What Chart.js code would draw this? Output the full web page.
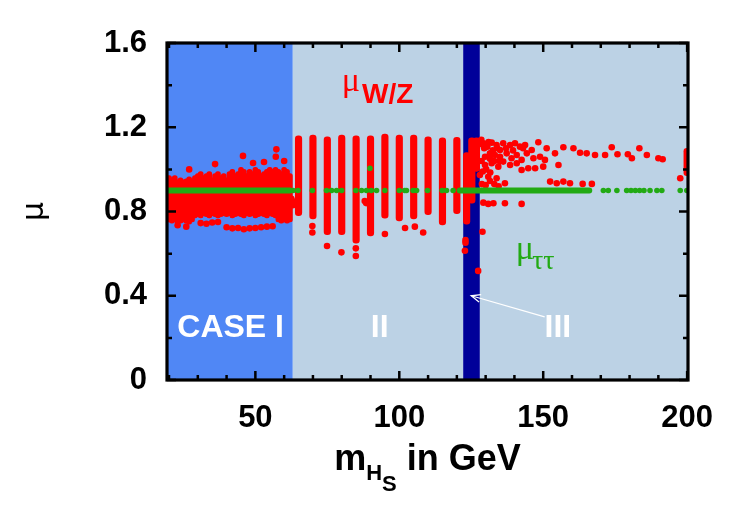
<!DOCTYPE html>
<html><head><meta charset="utf-8">
<script src="https://cdn.jsdelivr.net/npm/chart.js@4.4.1/dist/chart.umd.min.js"></script>
<style>html,body{margin:0;padding:0;background:#fff;}canvas{display:block;}</style>
</head><body>
<canvas id="c" width="750" height="525"></canvas>
<script>
// ---- axes ----
const xTickValues = [50, 100, 150, 200];
const xTickLabels = ['50', '100', '150', '200'];
const xMinorTicks = [20, 30, 40, 60, 70, 80, 90, 110, 120, 130, 140, 160, 170, 180, 190];
const yTickValues = [0, 0.4, 0.8, 1.2, 1.6];
const yTickLabels = ['0', '0.4', '0.8', '1.2', '1.6'];
const yMinorTicks = [0.2, 0.6, 1.0, 1.4];

// ---- shaded mass regions (GeV) ----
const bandFrom = [19.3, 63.0, 122.2, 128.0];
const bandTo   = [63.0, 122.2, 128.0, 200.3];
const regionLabels = ['CASE I', 'II', 'III'];
const regionLabelX = [41.4, 93.2, 155.1];
const regionLabelY = [0.206, 0.206, 0.206];

// ---- mu_W/Z : dense Case I scan (per GeV columns) ----
const caseIX = [20,21,22,23,24,25,26,27,28,29,30,31,32,33,34,35,36,37,38,39,40,41,42,43,44,45,46,47,48,49,50,51,52,53,54,55,56,57,58,59,60,61,62];
const caseILow = [0.75,0.745,0.75,0.74,0.745,0.75,0.745,0.74,0.75,
  0.77,0.775,0.77,0.78,0.775,0.77,0.78,0.775,0.77,0.775,
  0.78,0.775,0.78,0.77,0.775,0.78,0.775,0.77,0.78,0.775,0.78,0.77,0.775,0.78,0.775,0.77,0.78,0.775,0.77,
  0.75,0.745,0.75,0.745,0.75];
const caseIHigh = [0.97,0.96,0.97,0.95,0.96,0.95,0.955,0.965,0.955,0.97,0.98,0.99,0.97,0.98,0.99,0.96,0.98,0.99,0.97,
  0.98,0.96,0.99,1.0,0.98,0.99,1.01,1.0,0.98,1.0,0.99,1.01,1.0,0.98,0.99,1.0,1.01,1.0,1.01,1.0,0.99,1.01,1.0,0.98];

// ---- mu_W/Z : scan columns (GeV, low, high) ----
const colX    = [65, 70, 75, 80, 85, 90, 95, 100, 105, 110, 115, 120, 123.4, 125.2, 126.8, 200];
const colLow  = [0.78, 0.765, 0.69, 0.69, 0.65, 0.684, 0.768, 0.755, 0.765, 0.785, 0.736, 0.79, 0.74, 0.84, 0.99, 0.97];
const colHigh = [1.159, 1.163, 1.155, 1.163, 1.159, 1.159, 1.168, 1.163, 1.163, 1.155, 1.15, 1.152, 1.08, 1.15, 1.15, 1.10];

// ---- mu_W/Z : isolated points ----
const caseIPtX = [31,33,35,37,40,42,44,46,48,50,52,54,56,23,26,45.7,57.3,57.1,49.2,36,27,53,60];
const caseIPtY = [0.745,0.742,0.748,0.75,0.725,0.72,0.722,0.716,0.72,0.722,0.725,0.728,0.73,0.735,0.728,1.064,1.095,1.06,1.03,1.025,1.0,1.035,1.04];
const caseIIPtX = [62.5,63,62.8,88,88.5,69.8,69.8,74.9,79.9,84.9,84.9,95,102,105.4,108.3,123,123,122.8,127.4,128.9];
const caseIIPtY = [0.86,0.83,0.85,0.85,0.84,0.731,0.70,0.636,0.606,0.625,0.589,0.693,0.722,0.728,0.70,0.665,0.652,0.614,0.518,0.704];
const caseIIIPtX = [129.2,130.6,132.1,133.8,135.0,136.1,137.1,138.5,140.2,141.9,143.7,146.0,148.3,
  129.8,131.5,133.2,135.0,137.3,139.0,140.8,142.5,144.3,146.6,148.9,150.6,
  129.8,132.1,134.4,136.1,138.5,140.8,142.5,144.8,147.2,150.0,155.3,
  128.0,130.9,133.8,
  151.2,154.1,157.0,160.5,162.8,165.1,168.0,171.5,173.8,175.8,179.4,180.8,183.4,186.0,190.0,191.5,
  152.4,154.7,157.0,159.3,163.7,166.9,
  129.2,130.9,132.7,136.7,142.5,136.7,197.6,
  128.5,129.5,131.0,132.5,134.0,128.6,130.2,131.5,133.0,134.8,129.0,131.6,128.4,139.5,143.0,
  128.7,130.0,131.5,133.0,134.5];
const caseIIIPtY = [1.124,1.108,1.127,1.116,1.092,1.124,1.100,1.116,1.124,1.108,1.116,1.092,1.129,
  1.060,1.076,1.068,1.060,1.076,1.053,1.068,1.045,1.076,1.053,1.060,1.045,
  1.021,1.029,1.013,1.037,1.021,1.029,0.997,1.005,1.005,1.013,1.021,
  0.973,0.965,0.958,
  1.100,1.076,1.105,1.100,1.079,1.076,1.068,1.068,1.105,1.072,1.072,1.053,1.100,1.068,1.053,1.048,
  0.942,0.934,0.942,0.934,0.931,0.931,
  0.842,0.836,0.839,0.839,0.836,0.934,0.958,
  1.14,1.10,1.13,1.09,1.10,1.04,1.0,1.05,1.04,1.04,0.99,0.985,1.12,1.09,1.10,
  0.93,0.925,0.945,0.93,0.92];

// ---- mu_tautau ----
const ttSegStart = [19.5, 121.0];
const ttSegEnd   = [62.0, 166.0];
const ttSegY     = [0.9, 0.9];
const ttPtX = [63.1,64.8,69.8,74.7,76.5,78.2,80.0,84.9,86.9,88.6,90.3,92.1,95.0,100.0,101.9,102.5,104.8,106.0,109.8,114.9,116.4,118.7,
  170.9,172.6,175.6,179.0,180.5,182.0,183.5,185.0,187.1,189.5,191.2,197.6,199.9,89.8];
const ttPtY = [0.9,0.9,0.9,0.9,0.9,0.9,0.9,0.9,0.9,0.9,0.9,0.9,0.9,0.9,0.9,0.9,0.9,0.9,0.9,0.9,0.9,0.9,
  0.9,0.9,0.9,0.9,0.9,0.9,0.9,0.9,0.9,0.9,0.9,0.9,0.9,1.005];

// ---- annotation anchors (data units) ----
const wzLabelPos = [80.0, 1.372];
const ttLabelPos = [140.5, 0.575];
const arrowFrom = [150.5, 0.30];
const arrowTo = [125.0, 0.40];

// ---- styles ----
const RED = 'rgb(255,0,0)';
const GREEN = 'rgb(34,170,20)';
const bandColors = ['rgb(80,135,245)', 'rgb(188,210,229)', 'rgb(0,0,153)', 'rgb(188,210,229)'];
const SANS = '"Liberation Sans", Arial, sans-serif';
const SERIF = '"Liberation Serif", "DejaVu Serif", serif';

const caseIBars = caseIX.map((x, i) => ({x: x, y: [caseILow[i], caseIHigh[i]]}));
const colBars = colX.map((x, i) => ({x: x, y: [colLow[i], colHigh[i]]}));
const redPts = []
  .concat(caseIPtX.map((x, i) => ({x: x, y: caseIPtY[i]})))
  .concat(caseIIPtX.map((x, i) => ({x: x, y: caseIIPtY[i]})))
  .concat(caseIIIPtX.map((x, i) => ({x: x, y: caseIIIPtY[i]})));
const greenLine = [];
ttSegStart.forEach((s, i) => {
  greenLine.push({x: s, y: ttSegY[i]}, {x: ttSegEnd[i], y: ttSegY[i]}, {x: ttSegEnd[i], y: null});
});
const greenPts = ttPtX.map((x, i) => ({x: x, y: ttPtY[i]}));

const bgPlugin = {
  id: 'bg',
  beforeDatasetsDraw(chart) {
    const {ctx, chartArea: a, scales: {x}} = chart;
    ctx.save();
    for (let i = 0; i < bandFrom.length; i++) {
      const x0 = Math.max(a.left, x.getPixelForValue(bandFrom[i]));
      const x1 = Math.min(a.right, x.getPixelForValue(bandTo[i]));
      ctx.fillStyle = bandColors[i];
      ctx.fillRect(x0, a.top, x1 - x0, a.bottom - a.top);
    }
    ctx.restore();
  }
};

const annoPlugin = {
  id: 'anno',
  afterDatasetsDraw(chart) {
    const {ctx, scales: {x, y}} = chart;
    ctx.save();
    ctx.fillStyle = '#fff';
    ctx.font = 'bold 32px ' + SANS;
    ctx.textAlign = 'center';
    ctx.textBaseline = 'alphabetic';
    regionLabels.forEach((t, i) => {
      ctx.fillText(t, x.getPixelForValue(regionLabelX[i]), y.getPixelForValue(regionLabelY[i]));
    });
    const ax0 = x.getPixelForValue(arrowFrom[0]), ay0 = y.getPixelForValue(arrowFrom[1]);
    const ax1 = x.getPixelForValue(arrowTo[0]), ay1 = y.getPixelForValue(arrowTo[1]);
    ctx.strokeStyle = '#fff';
    ctx.lineWidth = 1.3;
    ctx.beginPath(); ctx.moveTo(ax0, ay0); ctx.lineTo(ax1, ay1); ctx.stroke();
    const ang = Math.atan2(ay1 - ay0, ax1 - ax0);
    ctx.beginPath();
    ctx.moveTo(ax1 - 10 * Math.cos(ang - 0.4), ay1 - 10 * Math.sin(ang - 0.4));
    ctx.lineTo(ax1, ay1);
    ctx.lineTo(ax1 - 10 * Math.cos(ang + 0.4), ay1 - 10 * Math.sin(ang + 0.4));
    ctx.stroke();
    ctx.textAlign = 'left';
    let px = x.getPixelForValue(wzLabelPos[0]), py = y.getPixelForValue(wzLabelPos[1]);
    ctx.fillStyle = RED;
    ctx.font = '34px ' + SERIF;
    ctx.fillText('\u03bc', px, py);
    let w = ctx.measureText('\u03bc').width;
    ctx.font = 'bold 28px ' + SANS;
    ctx.fillText('W/Z', px + w + 2, py + 12);
    px = x.getPixelForValue(ttLabelPos[0]); py = y.getPixelForValue(ttLabelPos[1]);
    ctx.fillStyle = GREEN;
    ctx.font = '34px ' + SERIF;
    ctx.fillText('\u03bc', px, py);
    w = ctx.measureText('\u03bc').width;
    ctx.font = '28px ' + SERIF;
    ctx.fillText('\u03c4\u03c4', px + w - 2, py + 10);
    ctx.restore();
  }
};

const framePlugin = {
  id: 'frame',
  afterDraw(chart) {
    const {ctx, chartArea: a, scales: {x, y}} = chart;
    ctx.save();
    ctx.strokeStyle = '#000';
    ctx.lineWidth = 2.5;
    const tick = (v, len, axis) => {
      ctx.beginPath();
      if (axis === 'x') {
        const p = x.getPixelForValue(v);
        ctx.moveTo(p, a.bottom); ctx.lineTo(p, a.bottom - len);
        ctx.moveTo(p, a.top); ctx.lineTo(p, a.top + len);
      } else {
        const p = y.getPixelForValue(v);
        ctx.moveTo(a.left, p); ctx.lineTo(a.left + len, p);
        ctx.moveTo(a.right, p); ctx.lineTo(a.right - len, p);
      }
      ctx.stroke();
    };
    xMinorTicks.forEach(v => tick(v, 5, 'x'));
    xTickValues.forEach(v => tick(v, 9, 'x'));
    yMinorTicks.forEach(v => tick(v, 5, 'y'));
    yTickValues.forEach(v => tick(v, 9, 'y'));
    ctx.lineWidth = 3.2;
    ctx.strokeRect(a.left, a.top, a.right - a.left, a.bottom - a.top);
    ctx.fillStyle = '#000';
    ctx.textBaseline = 'alphabetic';
    ctx.textAlign = 'left';
    const big = 'bold 36px ' + SANS, small = 'bold 22px ' + SANS;
    ctx.font = big; const wm = ctx.measureText('m').width; const wr = ctx.measureText(' in GeV').width;
    ctx.font = small; const wh = ctx.measureText('H').width; const ws = ctx.measureText('S').width;
    const total = wm + wh + ws + wr;
    let sx = (a.left + a.right) / 2 - total / 2;
    const base = a.bottom + 90;
    ctx.font = big; ctx.fillText('m', sx, base); sx += wm;
    ctx.font = small; ctx.fillText('H', sx, base + 10); sx += wh;
    ctx.fillText('S', sx, base + 21); sx += ws;
    ctx.font = big; ctx.fillText(' in GeV', sx, base);
    ctx.restore();
  }
};

new Chart(document.getElementById('c'), {
  type: 'scatter',
  data: {
    datasets: [
      {type: 'line', data: greenLine, borderColor: GREEN, borderWidth: 6, borderCapStyle: 'round',
       pointRadius: 0, showLine: true, spanGaps: false, order: 0},
      {type: 'scatter', data: greenPts, backgroundColor: GREEN, borderWidth: 0, pointRadius: 2.8, order: 1},
      {type: 'scatter', data: redPts, backgroundColor: RED, borderWidth: 0, pointRadius: 3.3, order: 2},
      {type: 'bar', data: caseIBars, backgroundColor: RED, barThickness: 5, grouped: false,
       borderSkipped: false, borderRadius: 2.5, order: 3},
      {type: 'bar', data: colBars, backgroundColor: RED, barThickness: 6.5, grouped: false,
       borderSkipped: false, borderRadius: 3.2, order: 3}
    ]
  },
  options: {
    responsive: false,
    animation: false,
    devicePixelRatio: 1,
    layout: {padding: {top: 43, right: 62, left: 0, bottom: 0}},
    plugins: {legend: {display: false}, tooltip: {enabled: false}},
    scales: {
      x: {
        type: 'linear', min: 19.3, max: 200.3, offset: false,
        grid: {display: false, drawTicks: false, offset: false},
        border: {display: false},
        afterBuildTicks(s) { s.ticks = xTickValues.map(v => ({value: v})); },
        ticks: {font: {family: SANS, size: 31, weight: 'bold'}, color: '#000', padding: 20,
                maxRotation: 0, autoSkip: false,
                callback: (v) => xTickLabels[xTickValues.indexOf(v)]},
        afterFit(s) { s.height = 145; }
      },
      y: {
        type: 'linear', min: 0, max: 1.6,
        grid: {display: false, drawTicks: false},
        border: {display: false},
        afterBuildTicks(s) { s.ticks = yTickValues.map(v => ({value: v})); },
        ticks: {font: {family: SANS, size: 31, weight: 'bold'}, color: '#000', padding: 20,
                autoSkip: false,
                callback: (v, i) => yTickLabels[i]},
        title: {display: true, text: '\u03bc', font: {family: '"DejaVu Sans", sans-serif', size: 30},
                color: '#000', padding: {top: 17, bottom: 0}},
        afterFit(s) { s.width = 167; }
      }
    }
  },
  plugins: [bgPlugin, annoPlugin, framePlugin]
});
</script>
</body></html>
